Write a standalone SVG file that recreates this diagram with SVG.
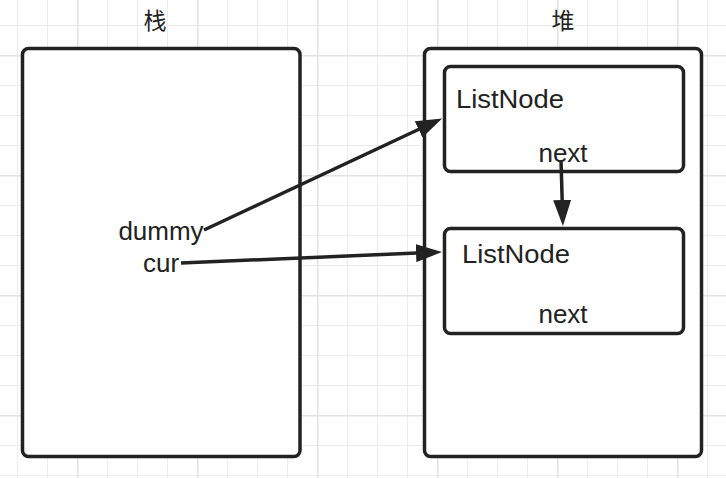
<svg xmlns="http://www.w3.org/2000/svg" width="726" height="478" viewBox="0 0 726 478">
  <defs>
    <pattern id="minor" x="17" y="25" width="30" height="30" patternUnits="userSpaceOnUse">
      <path d="M0.5,0 V30 M0,0.5 H30" stroke="#ececec" stroke-width="1" fill="none"/>
    </pattern>
    <pattern id="major" x="77" y="55" width="120" height="120" patternUnits="userSpaceOnUse">
      <path d="M0.75,0 V120 M0,0.75 H120" stroke="#e2e2e2" stroke-width="1.5" fill="none"/>
    </pattern>
    <marker id="arrow" viewBox="0 0 26 18" markerWidth="26" markerHeight="18" markerUnits="userSpaceOnUse" refX="1" refY="9" orient="auto">
      <path d="M0,0 L26,9 L0,18 Z" fill="#222222"/>
    </marker>
  </defs>
  <style>
    .box { fill: #ffffff; stroke: #222222; stroke-width: 3.5; }
    .lbl { font-family: "Liberation Sans", "Noto Sans CJK SC", Arial, sans-serif; font-size: 26px; fill: #222222; }
    .title { font-family: "Noto Sans CJK SC", "Liberation Sans", sans-serif; font-size: 23px; fill: #222222; text-anchor: middle; }
    .conn { fill: none; stroke: #222222; stroke-width: 3.5; marker-end: url(#arrow); }
  </style>
  <rect width="726" height="478" fill="#ffffff"/>
  <rect width="726" height="478" fill="url(#minor)"/>
  <rect width="726" height="478" fill="url(#major)"/>

  <g id="stack">
    <rect class="box" x="22.5" y="48.5" width="277.5" height="408" rx="6"/>
    <text class="title" x="155" y="29">栈</text>
    <text class="lbl" x="161" y="240" text-anchor="middle">dummy</text>
    <text class="lbl" x="161" y="272" text-anchor="middle">cur</text>
  </g>

  <g id="heap">
    <rect class="box" x="424.5" y="48.5" width="277" height="408" rx="6"/>
    <text class="title" x="563" y="29">堆</text>
  </g>

  <g id="node1">
    <rect class="box" x="444.5" y="66.5" width="239" height="105" rx="6"/>
    <text class="lbl" x="456" y="108" textLength="108" lengthAdjust="spacingAndGlyphs">ListNode</text>
    <text class="lbl" x="563" y="162" text-anchor="middle">next</text>
  </g>

  <g id="node2">
    <rect class="box" x="444.5" y="228.5" width="239" height="105" rx="6"/>
    <text class="lbl" x="462" y="263" textLength="108" lengthAdjust="spacingAndGlyphs">ListNode</text>
    <text class="lbl" x="563" y="323" text-anchor="middle">next</text>
  </g>

  <g id="connectors">
    <path class="conn" d="M204,230 L419.5,129"/>
    <path class="conn" d="M181,263 L417,253.1"/>
    <path class="conn" d="M561,160 L562.2,201"/>
  </g>
</svg>
